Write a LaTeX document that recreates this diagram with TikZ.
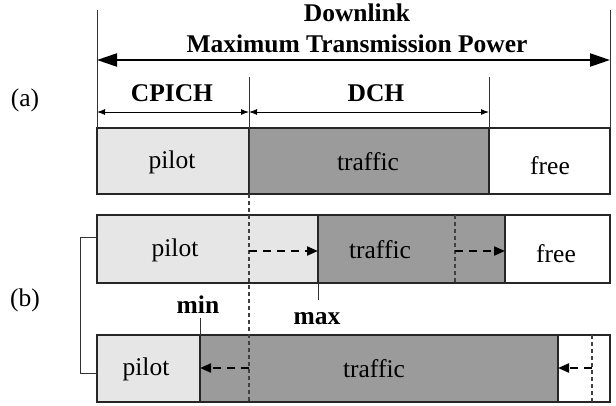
\documentclass[tikz,border=0pt]{standalone}
\usepackage{fontspec}
\setmainfont{Liberation Serif}
\usetikzlibrary{arrows.meta}
\definecolor{pilotc}{HTML}{E6E6E6}
\definecolor{trafc}{HTML}{9B9B9B}
\begin{document}
\begin{tikzpicture}[x=1pt,y=-1pt,
  seg/.style={draw=black!85, line width=1.6pt, inner sep=0, outer sep=0, anchor=north west},
  lbl/.style={font=\fontsize{25.5}{28}\selectfont, inner sep=0},
  blbl/.style={font=\fontsize{25.5}{28}\selectfont\bfseries, inner sep=0},
  thinl/.style={line width=1pt, draw=black!80},
  bigarr/.style={line width=2.2pt, {Triangle[length=20pt,width=13pt]}-{Triangle[length=20pt,width=13pt]}},
  smallarr/.style={line width=1pt, {Latex[length=8pt,width=6pt]}-{Latex[length=8pt,width=6pt]}},
  dasharr/.style={line width=2pt, dash pattern=on 8pt off 6pt, -{Triangle[length=11pt,width=9pt]}},
  guide/.style={line width=1.2pt, dash pattern=on 4pt off 3pt, draw=black!75}
]
\useasboundingbox (0,0) rectangle (616,405);

% ---------- (a) ----------
\node[seg, fill=pilotc, minimum width=152pt, minimum height=66pt] (ap) at (97,128) {};
\node[seg, fill=trafc, minimum width=240pt, minimum height=66pt] (at) at (249,128) {};
\node[seg, fill=white, minimum width=121pt, minimum height=66pt] (af) at (489,128) {};

% ---------- (b) top ----------
\node[seg, fill=pilotc, minimum width=221pt, minimum height=68pt] (bp) at (97,215) {};
\node[seg, fill=trafc, minimum width=187pt, minimum height=68pt] (bt) at (318,215) {};
\node[seg, fill=white, minimum width=105pt, minimum height=68pt] (bf) at (505,215) {};

% ---------- (b) bottom ----------
\node[seg, fill=pilotc, minimum width=103pt, minimum height=67pt] (cp) at (97,335) {};
\node[seg, fill=trafc, minimum width=358pt, minimum height=67pt] (ct) at (200,335) {};
\node[seg, fill=white, minimum width=52pt, minimum height=67pt] (cf) at (558,335) {};

% coordinates
\coordinate (lt) at (97,10);
\coordinate (rt) at (610,10);
\coordinate (la) at (97,60);
\coordinate (ra) at (610,60);
\coordinate (d1t) at (249,77);
\coordinate (d2t) at (489,77);
\coordinate (cl) at (97,112);
\coordinate (cm) at (249,112);
\coordinate (cr) at (489,112);
\coordinate (g1a) at (249,194);
\coordinate (g1b) at (249,402);
\coordinate (g2a) at (455,215);
\coordinate (g2b) at (455,283);
\coordinate (g3a) at (592,335);
\coordinate (g3b) at (592,402);
\coordinate (ar1s) at (249,251);
\coordinate (ar1e) at (318,251);
\coordinate (ar2s) at (455,251);
\coordinate (ar2e) at (505,251);
\coordinate (ar3s) at (249,368);
\coordinate (ar3e) at (200,368);
\coordinate (ar4s) at (592,368);
\coordinate (ar4e) at (558,368);
\coordinate (mxa) at (318,283);
\coordinate (mxb) at (318,300);
\coordinate (mna) at (200,318);
\coordinate (mnb) at (200,335);
\coordinate (bra) at (97,237);
\coordinate (brb) at (97,373);

% vertical lines
\draw[thinl] (lt) -- (ap.north west);
\draw[thinl] (rt) -- (af.north east);
\draw[thinl] (d1t) -- (g1a);
\draw[thinl] (d2t) -- (at.north east);
\draw[guide] (g1a) -- (g1b);
\draw[guide] (g2a) -- (g2b);
\draw[guide] (g3a) -- (g3b);

% arrows
\draw[bigarr] (la) -- (ra);
\draw[smallarr] (cl) -- (cm);
\draw[smallarr] (cm) -- (cr);
\draw[dasharr] (ar1s) -- (ar1e);
\draw[dasharr] (ar2s) -- (ar2e);
\draw[dasharr] (ar3s) -- (ar3e);
\draw[dasharr] (ar4s) -- (ar4e);

% min / max markers
\draw[thinl] (mxa) -- (mxb);
\draw[thinl] (mna) -- (mnb);

% bracket
\draw[thinl] (bra) -- ++(-17,0) |- (brb);

% texts
\node[blbl] (t1) at (357,13) {Downlink};
\node[blbl] (t2) at (357,44) {Maximum Transmission Power};
\node[blbl] (t3) at (172,93) {CPICH};
\node[blbl] (t4) at (376,93) {DCH};
\node[lbl] (t5) at (25,100) {(a)};
\node[lbl] (t6) at (25,300) {(b)};
\node[lbl] (p1) at (172,162) {pilot};
\node[lbl] (p2) at (368,162) {traffic};
\node[lbl] (p3) at (550,166) {free};
\node[lbl] (p4) at (175,250) {pilot};
\node[lbl] (p5) at (380,250) {traffic};
\node[lbl] (p6) at (556,254) {free};
\node[lbl] (p7) at (146,369) {pilot};
\node[lbl] (p8) at (374,369) {traffic};
\node[blbl] (mn) at (198,305) {min};
\node[blbl] (mx) at (317,319) {max};
\end{tikzpicture}
\end{document}
